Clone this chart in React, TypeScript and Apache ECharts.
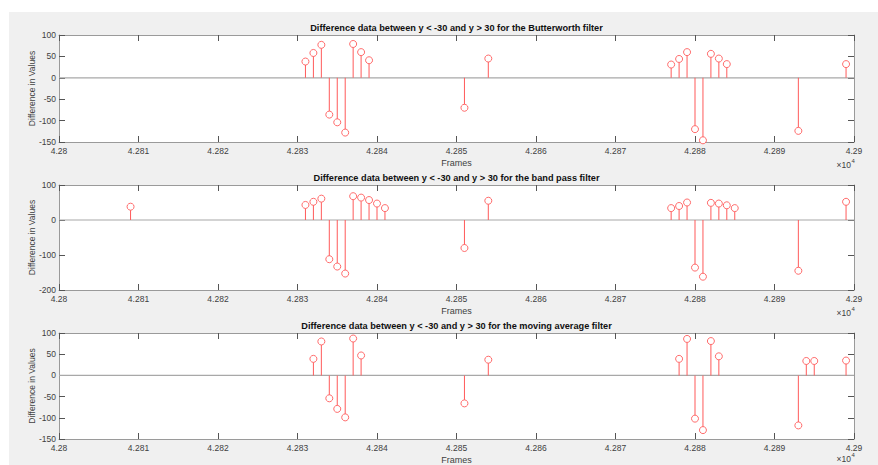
import React, { useEffect, useRef } from "react";
import * as echarts from "echarts";

// ---- data ----
const butterFrames = [42831, 42832, 42833, 42834, 42835, 42836, 42837, 42838, 42839, 42851, 42854, 42877, 42878, 42879, 42880, 42881, 42882, 42883, 42884, 42893, 42899];
const butterValues = [38, 58, 77, -86, -104, -128, 79, 60, 41, -70, 45, 31, 44, 60, -120, -146, 56, 45, 32, -124, 32];

const bandFrames = [42809, 42831, 42832, 42833, 42834, 42835, 42836, 42837, 42838, 42839, 42840, 42841, 42851, 42854, 42877, 42878, 42879, 42880, 42881, 42882, 42883, 42884, 42885, 42893, 42899];
const bandValues = [38, 43, 52, 61, -112, -133, -153, 68, 64, 57, 47, 34, -80, 55, 34, 40, 50, -136, -162, 49, 47, 42, 34, -145, 52];

const maFrames = [42832, 42833, 42834, 42835, 42836, 42837, 42838, 42851, 42854, 42878, 42879, 42880, 42881, 42882, 42883, 42893, 42894, 42895, 42899];
const maValues = [39, 80, -54, -79, -99, 87, 47, -66, 37, 39, 86, -102, -129, 81, 45, -118, 34, 34, 35];

const titles = [
  "Difference data between y < -30 and y > 30 for the Butterworth filter",
  "Difference data between y < -30 and y > 30 for the band pass filter",
  "Difference data between y < -30 and y > 30 for the moving average filter",
];
const yMins = [-150, -200, -150];
const yMaxs = [100, 100, 100];
const yIntervals = [50, 100, 50];
const xMin = 42800;
const xMax = 42900;
const xInterval = 10;

const FONT = "Liberation Sans";
const STEM = "#ff5a5a";

export default function App() {
  const ref = useRef<HTMLDivElement>(null);
  useEffect(() => {
    if (!ref.current) return;
    const chart = echarts.init(ref.current, null, { renderer: "svg" });
    const grids = [
      { left: 59, right: 24, top: 35, height: 107 },
      { left: 59, right: 24, top: 185, height: 105 },
      { left: 59, right: 24, top: 333, height: 106 },
    ];
    const panels = [
      { f: butterFrames, v: butterValues },
      { f: bandFrames, v: bandValues },
      { f: maFrames, v: maValues },
    ];
    const lineC = "#9a9a9a";
    const labelC = "#404040";
    const xAxes: any[] = [];
    const yAxes: any[] = [];
    const series: any[] = [];
    const graphics: any[] = [
      { type: "rect", shape: { x: 9, y: 12, width: 869, height: 453 }, style: { fill: "#f0f0f0" }, z: -10, silent: true },
    ];
    grids.forEach((g, i) => {
      const fmt = (val: number) => String(Number((val / 10000).toFixed(4)));
      xAxes.push({
        type: "value", gridIndex: i, min: xMin, max: xMax, interval: xInterval, position: "bottom",
        axisLine: { show: true, onZero: false, lineStyle: { color: lineC } },
        axisTick: { show: true, inside: true, length: 6, lineStyle: { color: "#555" } },
        axisLabel: { show: true, formatter: fmt, color: labelC, fontSize: 8.5, fontFamily: FONT, margin: 4 },
        splitLine: { show: false },
        name: "Frames", nameLocation: "middle", nameGap: 16, nameMoveOverlap: false,
        nameTextStyle: { color: labelC, fontSize: 9, fontFamily: FONT },
      });
      xAxes.push({
        type: "value", gridIndex: i, min: xMin, max: xMax, interval: xInterval, position: "top",
        axisLine: { show: true, onZero: false, lineStyle: { color: lineC } },
        axisTick: { show: true, inside: true, length: 6, lineStyle: { color: "#555" } },
        axisLabel: { show: false }, splitLine: { show: false },
      });
      yAxes.push({
        type: "value", gridIndex: i, min: yMins[i], max: yMaxs[i], interval: yIntervals[i], position: "left",
        axisLine: { show: true, onZero: false, lineStyle: { color: lineC } },
        axisTick: { show: true, inside: true, length: 6, lineStyle: { color: "#555" } },
        axisLabel: { show: true, color: labelC, fontSize: 8.5, fontFamily: FONT, margin: 3 },
        splitLine: { show: false },
        name: "Difference in Values", nameLocation: "middle", nameGap: 23, nameMoveOverlap: false,
        nameTextStyle: { color: labelC, fontSize: 8.5, fontFamily: FONT },
      });
      yAxes.push({
        type: "value", gridIndex: i, min: yMins[i], max: yMaxs[i], interval: yIntervals[i], position: "right",
        axisLine: { show: true, onZero: false, lineStyle: { color: lineC } },
        axisTick: { show: true, inside: true, length: 6, lineStyle: { color: "#555" } },
        axisLabel: { show: false }, splitLine: { show: false },
      });
      const p = panels[i];
      const data = p.f.map((x, k) => [x, p.v[k]]);
      series.push({
        type: "line", xAxisIndex: 2 * i, yAxisIndex: 2 * i, data: [[xMin, 0], [xMax, 0]],
        symbol: "none", lineStyle: { color: "#a8a8a8", width: 1.2 }, silent: true, z: 1,
      });
      series.push({
        type: "bar", xAxisIndex: 2 * i, yAxisIndex: 2 * i, data, barWidth: 1,
        itemStyle: { color: STEM }, silent: true, z: 2,
      });
      series.push({
        type: "scatter", xAxisIndex: 2 * i, yAxisIndex: 2 * i, data, symbol: "circle", symbolSize: 7,
        itemStyle: { color: "#ffffff", borderColor: "#ff5a5a", borderWidth: 0.9, opacity: 1 }, silent: true, z: 3,
      });
      const cx = 59 + (878 - 24 - 59) / 2;
      graphics.push({
        type: "text", x: cx, y: g.top - 7.5,
        style: { text: titles[i], fill: "#111", font: `bold 9.2px "${FONT}"`, textAlign: "center", textVerticalAlign: "middle" },
        z: 10,
      });
      const by = Math.min(g.top + g.height + 22, 458);
      graphics.push({
        type: "text", x: 851, y: by + 1,
        style: { text: "×10", fill: labelC, font: `8.5px "${FONT}"`, textAlign: "right", textVerticalAlign: "middle" }, z: 10,
      });
      graphics.push({
        type: "text", x: 851.5, y: by - 3,
        style: { text: "4", fill: labelC, font: `6px "${FONT}"`, textAlign: "left", textVerticalAlign: "middle" }, z: 10,
      });
    });
    chart.setOption({
      animation: false,
      backgroundColor: "#ffffff",
      grid: grids.map((g) => ({ ...g, show: true, backgroundColor: "#ffffff", borderWidth: 0, containLabel: false })),
      xAxis: xAxes,
      yAxis: yAxes,
      series,
      graphic: graphics,
    });
    return () => chart.dispose();
  }, []);
  return <div ref={ref} style={{ position: "fixed", left: 0, top: 0, width: 878, height: 465 }} />;
}
